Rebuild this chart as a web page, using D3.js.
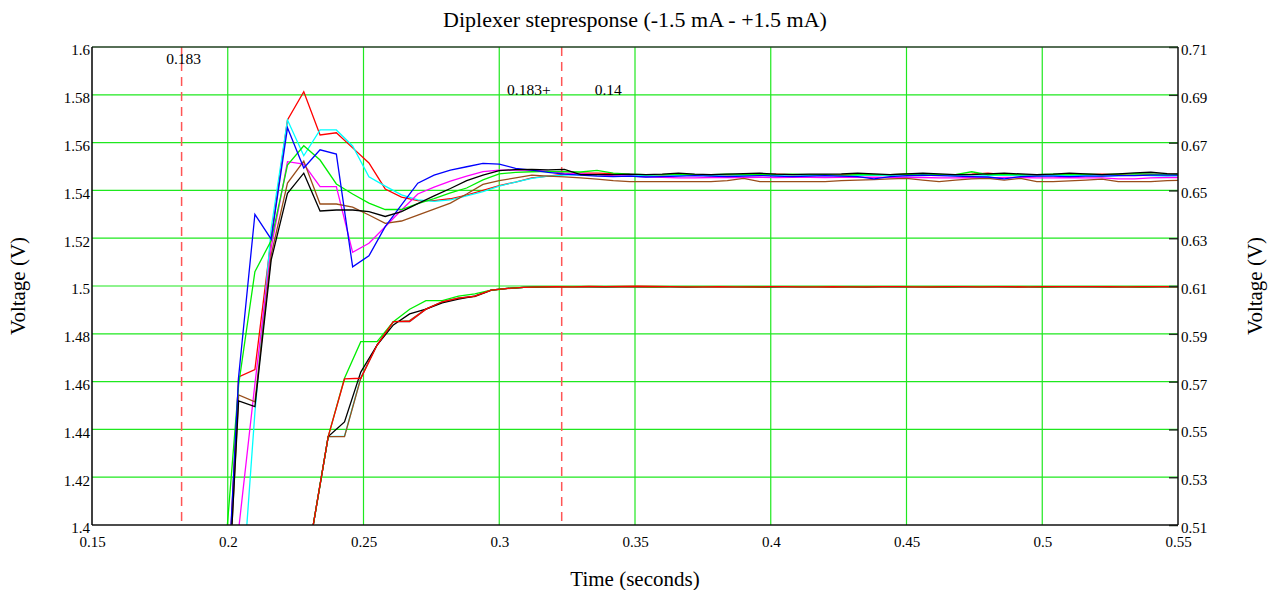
<!DOCTYPE html>
<html>
<head>
<meta charset="utf-8">
<script src="https://cdn.jsdelivr.net/npm/d3@7"></script>
<style>
body { margin: 0; background: #fff; }
text { font-family: "Liberation Serif", "Times New Roman", serif; fill: #000; }
</style>
</head>
<body>
<div id="chart"></div>
<script>
// sample times of the upper traces (left axis)
var tUpper = [
  0.198, 0.204, 0.210, 0.216, 0.222, 0.228, 0.234, 0.240, 0.246, 0.252,
  0.258, 0.264, 0.270, 0.276, 0.282, 0.288, 0.294, 0.300, 0.306, 0.312,
  0.318, 0.324, 0.330, 0.336, 0.342, 0.348, 0.354, 0.360, 0.366, 0.372,
  0.378, 0.384, 0.390, 0.396, 0.402, 0.408, 0.414, 0.420, 0.426, 0.432,
  0.438, 0.444, 0.450, 0.456, 0.462, 0.468, 0.474, 0.480, 0.486, 0.492,
  0.498, 0.504, 0.510, 0.516, 0.522, 0.528, 0.534, 0.540, 0.546, 0.552
];

var upRed = [
  1.326, 1.462, 1.465, 1.520, 1.5695, 1.5813, 1.5632, 1.5641, 1.5578, 1.5515,
  1.5406, 1.5372, 1.5357, 1.5357, 1.5365, 1.5380, 1.5400, 1.5420, 1.5435, 1.5452,
  1.5460, 1.5468, 1.5472, 1.5472, 1.5470, 1.5466, 1.5466, 1.5464, 1.5466, 1.5464,
  1.5466, 1.5464, 1.5464, 1.5466, 1.5468, 1.5466, 1.5464, 1.5464, 1.5466, 1.5466,
  1.5464, 1.5466, 1.5468, 1.5466, 1.5464, 1.5466, 1.5468, 1.5472, 1.5466, 1.5464,
  1.5464, 1.5466, 1.5464, 1.5466, 1.5468, 1.5466, 1.5464, 1.5466, 1.5468, 1.5466
];
var upCyan = [
  1.200, 1.352, 1.447, 1.524, 1.5695, 1.5545, 1.5653, 1.5653, 1.5586, 1.5457,
  1.5418, 1.5381, 1.5360, 1.5354, 1.5360, 1.5377, 1.5395, 1.5418, 1.5435, 1.5450,
  1.5460, 1.5464, 1.5466, 1.5464, 1.5466, 1.5464, 1.5462, 1.5460, 1.5462, 1.5464,
  1.5462, 1.5460, 1.5462, 1.5464, 1.5462, 1.5460, 1.5462, 1.5462, 1.5460, 1.5462,
  1.5464, 1.5462, 1.5460, 1.5462, 1.5464, 1.5462, 1.5460, 1.5462, 1.5464, 1.5462,
  1.5460, 1.5462, 1.5464, 1.5462, 1.5460, 1.5462, 1.5464, 1.5462, 1.5460, 1.5462
];
var upBlue = [
  1.329, 1.462, 1.530, 1.5196, 1.5662, 1.5494, 1.5570, 1.5552, 1.5080, 1.5126,
  1.5248, 1.5339, 1.5430, 1.5464, 1.5485, 1.5499, 1.5513, 1.5510, 1.5492, 1.5485,
  1.5475, 1.5468, 1.5464, 1.5460, 1.5458, 1.5460, 1.5456, 1.5458, 1.5460, 1.5462,
  1.5460, 1.5458, 1.5460, 1.5462, 1.5460, 1.5458, 1.5460, 1.5462, 1.5460, 1.5458,
  1.5448, 1.5458, 1.5462, 1.5464, 1.5462, 1.5460, 1.5458, 1.5456, 1.5448, 1.5458,
  1.5460, 1.5460, 1.5458, 1.5460, 1.5460, 1.5462, 1.5462, 1.5464, 1.5464, 1.5464
];
var upGreen = [
  1.3737, 1.4586, 1.506, 1.519, 1.5506, 1.5587, 1.5527, 1.5427, 1.5385, 1.5347,
  1.5320, 1.5320, 1.5345, 1.5366, 1.5390, 1.5410, 1.5444, 1.5469, 1.5475, 1.5478,
  1.5480, 1.5478, 1.5477, 1.5484, 1.5472, 1.5468, 1.5466, 1.5466, 1.5468, 1.5466,
  1.5466, 1.5468, 1.5466, 1.5466, 1.5466, 1.5468, 1.5466, 1.5466, 1.5464, 1.5466,
  1.5466, 1.5466, 1.5468, 1.5466, 1.5466, 1.5466, 1.5478, 1.5466, 1.5466, 1.5466,
  1.5466, 1.5468, 1.5466, 1.5468, 1.5466, 1.5468, 1.5470, 1.5468, 1.5466, 1.5468
];
var upMagenta = [
  1.250, 1.398, 1.459, 1.516, 1.552, 1.551, 1.5416, 1.5416, 1.5141, 1.5179,
  1.5248, 1.5318, 1.5385, 1.5414, 1.5439, 1.5460, 1.5479, 1.5485, 1.5485, 1.5485,
  1.5480, 1.5472, 1.5470, 1.5466, 1.5462, 1.5460, 1.5457, 1.5455, 1.5452, 1.5452,
  1.5454, 1.5455, 1.5454, 1.5455, 1.5454, 1.5455, 1.5455, 1.5454, 1.5455, 1.5455,
  1.5455, 1.5454, 1.5455, 1.5454, 1.5452, 1.5452, 1.5454, 1.5452, 1.5454, 1.5454,
  1.5452, 1.5452, 1.5454, 1.5452, 1.5452, 1.5448, 1.5448, 1.5452, 1.5454, 1.5454
];
var upBrown = [
  1.320, 1.4544, 1.4515, 1.513, 1.5431, 1.5523, 1.5343, 1.5343, 1.5330, 1.5297,
  1.5262, 1.5272, 1.5297, 1.5322, 1.5347, 1.5385, 1.5425, 1.5441, 1.5452, 1.5464,
  1.5460, 1.5457, 1.5452, 1.5447, 1.5441, 1.5437, 1.5437, 1.5437, 1.5437, 1.5437,
  1.5437, 1.5441, 1.5450, 1.5437, 1.5437, 1.5437, 1.5437, 1.5437, 1.5441, 1.5443,
  1.5445, 1.5448, 1.5450, 1.5443, 1.5437, 1.5443, 1.5448, 1.5450, 1.5443, 1.5450,
  1.5437, 1.5437, 1.5440, 1.5443, 1.5447, 1.5437, 1.5437, 1.5437, 1.5441, 1.5443
];
var upBlack = [
  1.324, 1.4519, 1.4495, 1.5109, 1.5388, 1.5472, 1.5314, 1.5318, 1.5318, 1.5311,
  1.5291, 1.5311, 1.5345, 1.5377, 1.5408, 1.5441, 1.5464, 1.5483, 1.5487, 1.5488,
  1.5486, 1.5488, 1.5466, 1.5466, 1.5466, 1.5468, 1.5466, 1.5468, 1.5472, 1.5468,
  1.5466, 1.5468, 1.5470, 1.5472, 1.5468, 1.5466, 1.5468, 1.5468, 1.5469, 1.5472,
  1.5469, 1.5466, 1.5469, 1.5472, 1.5469, 1.5466, 1.5466, 1.5469, 1.5472, 1.5469,
  1.5466, 1.5468, 1.5472, 1.5469, 1.5466, 1.5469, 1.5473, 1.5476, 1.5470, 1.5469
];

// sample times of the lower traces (right axis)
var tLower = [
  0.225, 0.231, 0.237, 0.243, 0.249, 0.255, 0.261, 0.267, 0.273, 0.279,
  0.285, 0.291, 0.297, 0.303, 0.309, 0.315, 0.321, 0.327, 0.333, 0.339,
  0.345, 0.351, 0.357, 0.363, 0.369, 0.375, 0.381, 0.387, 0.393, 0.399,
  0.405, 0.411, 0.417, 0.423, 0.429, 0.435, 0.441, 0.447, 0.453, 0.459,
  0.465, 0.471, 0.477, 0.483, 0.489, 0.495, 0.501, 0.507, 0.513, 0.519,
  0.525, 0.531, 0.537, 0.543, 0.549, 0.555
];

var loCyan = [
  0.450, 0.5067, 0.547, 0.5472, 0.5716, 0.5853, 0.5951, 0.5951, 0.6003, 0.6034,
  0.6049, 0.6058, 0.6083, 0.6090, 0.6094, 0.6096, 0.6097, 0.6097, 0.6096, 0.6097,
  0.6097, 0.6096, 0.6097, 0.6097, 0.6096, 0.6097, 0.6097, 0.6096, 0.6097, 0.6097,
  0.6097, 0.6096, 0.6097, 0.6097, 0.6096, 0.6097, 0.6097, 0.6096, 0.6097, 0.6097,
  0.6097, 0.6096, 0.6097, 0.6097, 0.6097, 0.6096, 0.6097, 0.6097, 0.6097, 0.6096,
  0.6097, 0.6097, 0.6097, 0.6097, 0.6097, 0.6097
];
var loBrown = [
  0.450, 0.5067, 0.547, 0.5470, 0.5714, 0.5853, 0.5951, 0.5955, 0.6003, 0.6034,
  0.6049, 0.6056, 0.6082, 0.6089, 0.6094, 0.6095, 0.6096, 0.6096, 0.6096, 0.6096,
  0.6096, 0.6096, 0.6095, 0.6096, 0.6096, 0.6096, 0.6096, 0.6096, 0.6095, 0.6096,
  0.6096, 0.6096, 0.6096, 0.6095, 0.6096, 0.6096, 0.6096, 0.6096, 0.6096, 0.6095,
  0.6096, 0.6096, 0.6096, 0.6096, 0.6095, 0.6096, 0.6096, 0.6096, 0.6096, 0.6096,
  0.6095, 0.6096, 0.6096, 0.6096, 0.6096, 0.6096
];
var loBlack = [
  0.450, 0.5067, 0.547, 0.5531, 0.5740, 0.5853, 0.5937, 0.5983, 0.6003, 0.6029,
  0.6045, 0.6058, 0.6083, 0.6090, 0.6094, 0.6096, 0.6097, 0.6097, 0.6097, 0.6096,
  0.6097, 0.6097, 0.6097, 0.6097, 0.6096, 0.6097, 0.6097, 0.6097, 0.6097, 0.6096,
  0.6097, 0.6097, 0.6097, 0.6097, 0.6097, 0.6096, 0.6097, 0.6097, 0.6097, 0.6097,
  0.6096, 0.6097, 0.6097, 0.6097, 0.6097, 0.6097, 0.6096, 0.6097, 0.6097, 0.6097,
  0.6097, 0.6097, 0.6096, 0.6097, 0.6097, 0.6097
];
var loGreen = [
  0.450, 0.5067, 0.547, 0.5714, 0.5867, 0.5867, 0.5951, 0.6003, 0.6039, 0.6039,
  0.6058, 0.6067, 0.6083, 0.6090, 0.6094, 0.6096, 0.6097, 0.6097, 0.6097, 0.6097,
  0.6097, 0.6097, 0.6096, 0.6097, 0.6097, 0.6097, 0.6097, 0.6097, 0.6096, 0.6097,
  0.6097, 0.6097, 0.6097, 0.6097, 0.6096, 0.6097, 0.6097, 0.6097, 0.6097, 0.6097,
  0.6096, 0.6097, 0.6097, 0.6097, 0.6097, 0.6097, 0.6096, 0.6097, 0.6097, 0.6097,
  0.6097, 0.6097, 0.6096, 0.6097, 0.6097, 0.6097
];
var loRed = [
  0.450, 0.5067, 0.547, 0.5711, 0.5714, 0.5853, 0.5951, 0.5951, 0.6003, 0.6034,
  0.6049, 0.6058, 0.6083, 0.6090, 0.6094, 0.6096, 0.6097, 0.6096, 0.6098, 0.6097,
  0.6098, 0.6099, 0.6098, 0.6097, 0.6096, 0.6096, 0.6097, 0.6096, 0.6096, 0.6097,
  0.6097, 0.6096, 0.6096, 0.6097, 0.6096, 0.6096, 0.6097, 0.6097, 0.6096, 0.6096,
  0.6097, 0.6097, 0.6096, 0.6097, 0.6097, 0.6096, 0.6097, 0.6097, 0.6097, 0.6097,
  0.6097, 0.6096, 0.6097, 0.6097, 0.6097, 0.6097
];

var xTicks = [0.15, 0.2, 0.25, 0.3, 0.35, 0.4, 0.45, 0.5, 0.55];
var yLeftTicks = [1.4, 1.42, 1.44, 1.46, 1.48, 1.5, 1.52, 1.54, 1.56, 1.58, 1.6];
var yRightTicks = [0.51, 0.53, 0.55, 0.57, 0.59, 0.61, 0.63, 0.65, 0.67, 0.69, 0.71];

// cursor lines (time), with their labels
var markerTimes = [0.183, 0.323];
var markerLabels = ['0.183', '0.183+', '0.14'];

var width = 1271, height = 590;
// plot box edges (don't call these top/left, window.top is read-only)
var pL = 92, pR = 1178, pT = 47, pB = 525;

var svg = d3.select('#chart').append('svg')
  .attr('width', width)
  .attr('height', height);

var x = d3.scaleLinear().domain([0.15, 0.55]).range([pL, pR]);
var yL = d3.scaleLinear().domain([1.4, 1.6]).range([pB, pT]);
var yR = d3.scaleLinear().domain([0.51, 0.71]).range([pB, pT]);

svg.append('clipPath').attr('id', 'plot')
  .append('rect')
  .attr('x', pL).attr('y', pT)
  .attr('width', pR - pL).attr('height', pB - pT);

// green grid
var grid = svg.append('g').attr('stroke', '#1ee81e').attr('stroke-width', 1.2);
grid.selectAll('.vx')
  .data(xTicks.slice(1, -1))
  .enter().append('line')
  .attr('x1', d => x(d)).attr('x2', d => x(d))
  .attr('y1', pT).attr('y2', pB);
grid.selectAll('.hy')
  .data(yLeftTicks.slice(1, -1))
  .enter().append('line')
  .attr('x1', pL).attr('x2', pR)
  .attr('y1', d => yL(d)).attr('y2', d => yL(d));

// cursors
svg.append('g').selectAll('line')
  .data(markerTimes)
  .enter().append('line')
  .attr('x1', d => x(d)).attr('x2', d => x(d))
  .attr('y1', pT).attr('y2', pB)
  .attr('stroke', '#f55')
  .attr('stroke-width', 1.5)
  .attr('stroke-dasharray', '9,6');

svg.append('text').text(markerLabels[0])
  .attr('x', x(markerTimes[0]) + 2).attr('y', 64)
  .attr('text-anchor', 'middle').style('font-size', '15.5px');
svg.append('text').text(markerLabels[1])
  .attr('x', x(markerTimes[1]) - 11).attr('y', 95)
  .attr('text-anchor', 'end').style('font-size', '15.5px');
svg.append('text').text(markerLabels[2])
  .attr('x', x(markerTimes[1]) + 33).attr('y', 95)
  .attr('text-anchor', 'start').style('font-size', '15.5px');

// traces
var plot = svg.append('g').attr('clip-path', 'url(#plot)')
  .attr('fill', 'none').attr('stroke-width', 1.3);

var lineL = d3.line().x(d => x(d[0])).y(d => yL(d[1]));
var lineR = d3.line().x(d => x(d[0])).y(d => yR(d[1]));

var upper = [
  [upRed, '#ff0000'], [upCyan, '#00ffff'], [upMagenta, '#ff00ff'],
  [upBrown, '#994d1a'], [upGreen, '#00ee00'], [upBlue, '#0000ff'], [upBlack, '#000000']
];
var lower = [
  [loCyan, '#00ffff'], [loBrown, '#994d1a'], [loBlack, '#000000'],
  [loGreen, '#00ee00'], [loRed, '#ff0000']
];

plot.selectAll('.up')
  .data(upper)
  .enter().append('path')
  .attr('d', d => lineL(d3.zip(tUpper, d[0])))
  .attr('stroke', d => d[1]);

plot.selectAll('.lo')
  .data(lower)
  .enter().append('path')
  .attr('d', d => lineR(d3.zip(tLower, d[0])))
  .attr('stroke', d => d[1]);

// axes
var fmt = d => String(d);

var xAxis = svg.append('g')
  .attr('transform', 'translate(0,' + pB + ')')
  .call(d3.axisBottom(x).tickValues(xTicks).tickFormat(fmt).tickSize(0).tickPadding(11));
var yAxisL = svg.append('g')
  .attr('transform', 'translate(' + pL + ',0)')
  .call(d3.axisLeft(yL).tickValues(yLeftTicks).tickFormat(fmt).tickSize(0).tickPadding(2));
var yAxisR = svg.append('g')
  .attr('transform', 'translate(' + pR + ',0)')
  .call(d3.axisRight(yR).tickValues(yRightTicks).tickFormat(fmt).tickSizeInner(-9).tickSizeOuter(0).tickPadding(3));

[xAxis, yAxisL, yAxisR].forEach(function(g) {
  g.select('.domain').remove();
  g.selectAll('text').style('font-size', '15px').style('font-family', '"Liberation Serif", serif').attr('fill', '#000');
});
yAxisL.selectAll('text').attr('dy', '0.53em');
yAxisR.selectAll('text').attr('dy', '0.5em');
yAxisR.selectAll('line').attr('stroke', '#223322').attr('stroke-width', 1.5);

// frame
var frame = svg.append('g').attr('stroke-width', 1.5);
frame.append('line').attr('x1', pL).attr('x2', pR).attr('y1', pT).attr('y2', pT).attr('stroke', '#1f3f1f');
frame.append('line').attr('x1', pL).attr('x2', pR).attr('y1', pB).attr('y2', pB).attr('stroke', '#111');
frame.append('line').attr('x1', pL).attr('x2', pL).attr('y1', pT).attr('y2', pB).attr('stroke', '#000');
frame.append('line').attr('x1', pR).attr('x2', pR).attr('y1', pT).attr('y2', pB).attr('stroke', '#111');

// titles
svg.append('text')
  .text('Diplexer stepresponse (-1.5 mA - +1.5 mA)')
  .attr('x', 635).attr('y', 27)
  .attr('text-anchor', 'middle')
  .style('font-size', '22px');

svg.append('text')
  .text('Time (seconds)')
  .attr('x', 635).attr('y', 586)
  .attr('text-anchor', 'middle')
  .style('font-size', '21px');

svg.append('text')
  .text('Voltage (V)')
  .attr('transform', 'translate(25,286) rotate(-90)')
  .attr('text-anchor', 'middle')
  .style('font-size', '21px');

svg.append('text')
  .text('Voltage (V)')
  .attr('transform', 'translate(1262,286) rotate(-90)')
  .attr('text-anchor', 'middle')
  .style('font-size', '21px');
</script>
</body>
</html>
